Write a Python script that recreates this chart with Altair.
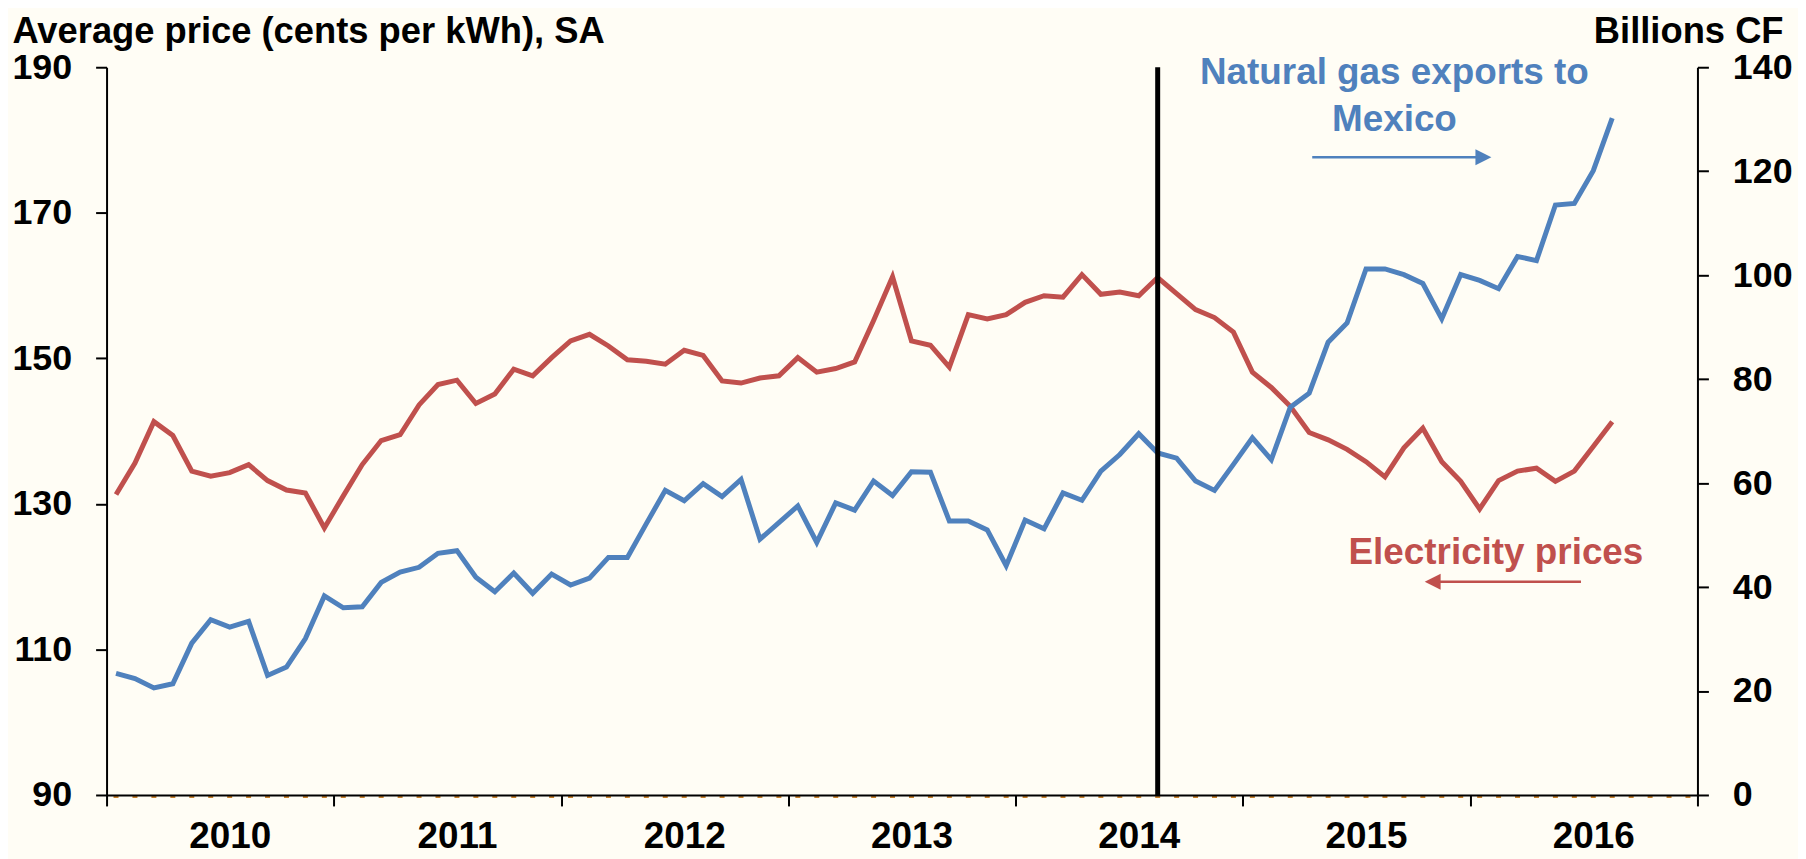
import altair as alt
import pandas as pd

# Monthly observations, Jan 2010 - Aug 2016 (month index 0..79)
electricity = [131.3, 135.6, 141.3, 139.4, 134.5, 133.8, 134.3, 135.4, 133.2, 131.9,
               131.5, 126.7, 131.1, 135.4, 138.7, 139.5, 143.6, 146.4, 147.0, 143.8,
               145.1, 148.5, 147.6, 150.1, 152.4, 153.3, 151.7, 149.8, 149.6, 149.2,
               151.1, 150.4, 146.9, 146.6, 147.3, 147.6, 150.1, 148.1, 148.6, 149.5,
               155.2, 161.2, 152.4, 151.8, 148.8, 156.0, 155.4, 156.0, 157.7, 158.6,
               158.4, 161.5, 158.8, 159.1, 158.6, 161.1, 158.9, 156.7, 155.6, 153.6,
               148.1, 146.0, 143.4, 139.8, 138.8, 137.5, 135.8, 133.7, 137.7, 140.4,
               135.8, 133.1, 129.3, 133.2, 134.5, 134.9, 133.1, 134.5, 137.9, 141.3]
gas_exports = [23.4, 22.4, 20.6, 21.4, 29.2, 33.7, 32.3, 33.4, 23.0, 24.6,
               30.1, 38.3, 36.0, 36.2, 40.9, 42.9, 43.8, 46.5, 47.0, 41.9,
               39.1, 42.7, 38.8, 42.5, 40.4, 41.7, 45.7, 45.7, 52.2, 58.6,
               56.6, 59.9, 57.4, 60.7, 49.2, 52.4, 55.6, 48.6, 56.2, 54.8,
               60.4, 57.6, 62.2, 62.1, 52.7, 52.7, 51.0, 44.1, 52.9, 51.2,
               58.1, 56.7, 62.3, 65.5, 69.5, 65.8, 64.8, 60.4, 58.6, 63.6,
               68.7, 64.5, 74.6, 77.3, 87.1, 90.8, 101.2, 101.2, 100.1, 98.4,
               91.6, 100.1, 99.0, 97.4, 103.6, 102.8, 113.5, 113.8, 120.1, 130.2]
months = [i + 0.5 for i in range(len(electricity))]
years = ["2010", "2011", "2012", "2013", "2014", "2015", "2016"]

left_ticks = [90, 110, 130, 150, 170, 190]
right_ticks = [0, 20, 40, 60, 80, 100, 120, 140]
marker_month = [55.5]

# annotations (data coordinates)
gas_label = ["Natural gas exports to", "Mexico"]
gas_label_x = [68.0, 68.0]
gas_label_y = [136.7, 127.7]          # right axis units
gas_arrow = {"x": [63.66], "x2": [72.5], "tip": [73.12], "y": [122.7]}
elec_label = ["Electricity prices"]
elec_label_x = [73.36]
elec_label_y = [121.7]                # left axis units
elec_arrow = {"x": [77.85], "x2": [70.3], "tip": [69.6], "y": [119.3]}

RED = "#C0504D"
BLUE = "#4F81BD"
FONT = "Liberation Sans"
BG = "#FFFDF5"

df = pd.DataFrame({"m": months, "elec": electricity, "gas": gas_exports})

x_values = []
for k in range(len(years) + 1):
    x_values.append(12 * k)
    if k < len(years):
        x_values.append(12 * k + 6.5)
year_js = "[" + ",".join("'" + y + "'" for y in years) + "]"

x_scale = alt.Scale(domain=[0, 84], nice=False, zero=False)
left_scale = alt.Scale(domain=[90, 190], nice=False, zero=False)
right_scale = alt.Scale(domain=[0, 140], nice=False, zero=False)

x_axis = alt.Axis(
    values=x_values,
    labelExpr="datum.value % 12 === 0 ? '' : " + year_js + "[floor(datum.value / 12)]",
    tickOpacity={"condition": {"test": "datum.value % 12 === 0", "value": 1}, "value": 0},
    title=None, grid=False, tickSize=11, tickWidth=2, domainWidth=2,
    domainColor="black", tickColor="black", labelColor="black",
    labelFont=FONT, labelFontSize=37, labelFontWeight="bold",
    labelBaseline="alphabetic", labelPadding=42, labelFlush=False,
    labelOverlap=False, zindex=1,
)

left_axis = alt.Axis(
    values=left_ticks, title="Average price (cents per kWh), SA",
    titleAngle=0, titleAlign="left", titleBaseline="alphabetic",
    titleX=-95, titleY=-24.4, titleFont=FONT, titleFontSize=36.5,
    titleFontWeight="bold", titleColor="black",
    grid=False, tickSize=11, tickWidth=2, domainWidth=2,
    domainColor="black", tickColor="black", labelColor="black",
    labelFont=FONT, labelFontSize=36, labelFontWeight="bold",
    labelPadding=24, labelFlush=False, labelOverlap=False, zindex=1,
)

right_axis = alt.Axis(
    orient="right", values=right_ticks, title="Billions CF",
    titleAngle=0, titleAlign="right", titleBaseline="alphabetic",
    titleX=86, titleY=-24.4, titleFont=FONT, titleFontSize=36.5,
    titleFontWeight="bold", titleColor="black",
    grid=False, tickSize=11, tickWidth=2, domainWidth=2,
    domainColor="black", tickColor="black", labelColor="black",
    labelFont=FONT, labelFontSize=36, labelFontWeight="bold",
    labelPadding=24, labelFlush=False, labelOverlap=False, zindex=1,
)


def X(field):
    return alt.X(field, type="quantitative", scale=x_scale, axis=x_axis)


def YL(field):
    return alt.Y(field, type="quantitative", scale=left_scale, axis=left_axis)


def YR(field):
    return alt.Y(field, type="quantitative", scale=right_scale, axis=right_axis)


base = alt.Chart(df)

# ---- left-axis group
baseline_df = pd.DataFrame({"x": [0], "x2": [84], "y": [left_ticks[0]]})
dash_rule = alt.Chart(baseline_df).mark_rule(
    color="#C8822E", strokeWidth=2, strokeDash=[5, 14.024], strokeDashOffset=12.024, yOffset=2
).encode(x=X("x"), x2="x2:Q", y=YL("y"))

red_line = base.mark_line(color=RED, strokeWidth=5, strokeJoin="miter").encode(
    x=X("m"), y=YL("elec")
)

elec_text = alt.Chart(pd.DataFrame({"t": elec_label, "x": elec_label_x, "y": elec_label_y})).mark_text(
    color=RED, font=FONT, fontSize=37, fontWeight="bold", align="center", baseline="alphabetic"
).encode(x=X("x"), y=YL("y"), text="t:N")

elec_arrow_df = pd.DataFrame(elec_arrow)
elec_shaft = alt.Chart(elec_arrow_df).mark_rule(color=RED, strokeWidth=2.5).encode(
    x=X("x"), x2="x2:Q", y=YL("y")
)
elec_head = alt.Chart(elec_arrow_df).mark_point(
    shape="M0,0L1,-0.5L1,0.5Z", filled=True, color=RED, opacity=1, size=1024, strokeWidth=0
).encode(x=X("tip"), y=YL("y"))

left_group = alt.layer(dash_rule, red_line, elec_text, elec_shaft, elec_head)

# ---- right-axis group
blue_line = base.mark_line(color=BLUE, strokeWidth=5, strokeJoin="miter").encode(
    x=X("m"), y=YR("gas")
)

vline = alt.Chart(pd.DataFrame({"x": marker_month, "y": [right_ticks[0]], "y2": [right_ticks[-1]]})).mark_rule(
    color="black", strokeWidth=5
).encode(x=X("x"), y=YR("y"), y2="y2:Q")

gas_text = alt.Chart(pd.DataFrame({"t": gas_label, "x": gas_label_x, "y": gas_label_y})).mark_text(
    color=BLUE, font=FONT, fontSize=37, fontWeight="bold", align="center", baseline="alphabetic"
).encode(x=X("x"), y=YR("y"), text="t:N")

gas_arrow_df = pd.DataFrame(gas_arrow)
gas_shaft = alt.Chart(gas_arrow_df).mark_rule(color=BLUE, strokeWidth=2.5).encode(
    x=X("x"), x2="x2:Q", y=YR("y")
)
gas_head = alt.Chart(gas_arrow_df).mark_point(
    shape="M0,0L-1,-0.5L-1,0.5Z", filled=True, color=BLUE, opacity=1, size=1024, strokeWidth=0
).encode(x=X("tip"), y=YR("y"))

right_group = alt.layer(blue_line, vline, gas_text, gas_shaft, gas_head)

chart = alt.layer(left_group, right_group).resolve_scale(y="independent").properties(
    width=1598, height=731,
    autosize=alt.AutoSizeParams(type="none"),
    padding={"left": 99, "top": 57.6, "right": 101, "bottom": 62},
    background=BG,
).configure_view(stroke=None)

chart.save("out.html", embed_options={"renderer": "svg", "actions": False})
